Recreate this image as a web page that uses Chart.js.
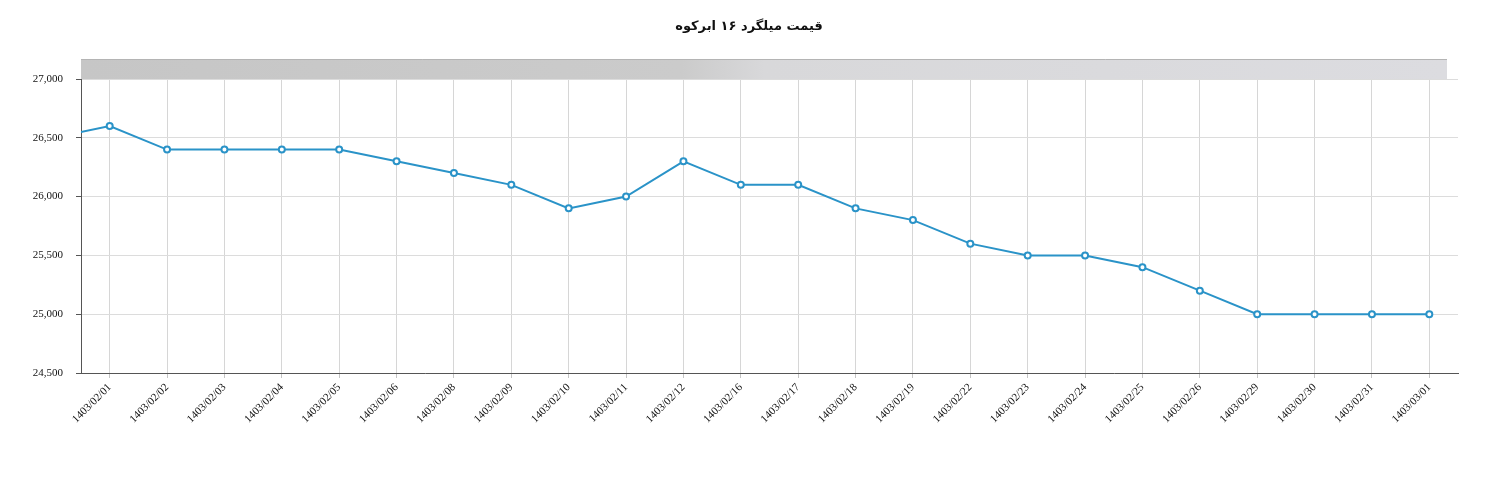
<!DOCTYPE html>
<html>
<head>
<meta charset="utf-8">
<script src="https://cdn.jsdelivr.net/npm/chart.js@4"></script>
<style>
  html, body { margin: 0; padding: 0; background: #fff; }
  #wrap { width: 1498px; height: 483px; position: relative; }
</style>
</head>
<body>
<div id="wrap"><canvas id="myChart"></canvas></div>
<script>
// title and data (first date sits just left of the visible window)
const titulo = "قیمت میلگرد ۱۶ ابرکوه";
const datas = [
  "1403/01/31",
  "1403/02/01", "1403/02/02", "1403/02/03", "1403/02/04", "1403/02/05",
  "1403/02/06", "1403/02/08", "1403/02/09", "1403/02/10", "1403/02/11",
  "1403/02/12", "1403/02/16", "1403/02/17", "1403/02/18", "1403/02/19",
  "1403/02/22", "1403/02/23", "1403/02/24", "1403/02/25", "1403/02/26",
  "1403/02/29", "1403/02/30", "1403/02/31", "1403/03/01"
];
const precos = [
  26500,
  26600, 26400, 26400, 26400, 26400,
  26300, 26200, 26100, 25900, 26000,
  26300, 26100, 26100, 25900, 25800,
  25600, 25500, 25500, 25400, 25200,
  25000, 25000, 25000, 25000
];
const yMin = 24500;
const yMax = 27000;
const yStep = 500;

// barra cinza em cima da área do gráfico
const barraTopo = {
  id: "barraTopo",
  beforeDatasetsDraw(chart) {
    const { ctx, chartArea } = chart;
    const x0 = chartArea.left;
    const x1 = chartArea.right - 11;
    const g = ctx.createLinearGradient(x0, 0, x1, 0);
    g.addColorStop(0, "#c6c6c6");
    g.addColorStop(0.44, "#cbcbcb");
    g.addColorStop(0.5, "#d8d8da");
    g.addColorStop(1, "#dcdce0");
    ctx.save();
    ctx.fillStyle = g;
    ctx.fillRect(x0, chartArea.top - 20, x1 - x0, 20);
    ctx.strokeStyle = "#b4b4b4";
    ctx.lineWidth = 1;
    ctx.beginPath();
    ctx.moveTo(x0, chartArea.top - 19.5);
    ctx.lineTo(x1, chartArea.top - 19.5);
    ctx.stroke();
    ctx.restore();
  }
};

// título centrado na página toda (não só na área do gráfico)
const tituloCentro = {
  id: "tituloCentro",
  afterDraw(chart) {
    const { ctx, width } = chart;
    ctx.save();
    ctx.font = "bold 13px 'DejaVu Sans'";
    ctx.fillStyle = "#111";
    ctx.textAlign = "center";
    ctx.textBaseline = "middle";
    ctx.fillText(titulo, width / 2, 27);
    ctx.restore();
  }
};

let myChart;

document.addEventListener("DOMContentLoaded", () => {
  const ctx = document.getElementById("myChart").getContext("2d");
  myChart = new Chart(ctx, {
    type: "line",
    data: {
      labels: datas,
      datasets: [
        {
          label: titulo,
          data: precos,
          borderColor: "#2a93c8",
          backgroundColor: "#ffffff",
          borderWidth: 2,
          pointRadius: 3,
          pointBorderWidth: 2,
          pointBackgroundColor: "#ffffff",
          pointBorderColor: "#2a93c8",
          tension: 0,
          fill: false,
        },
      ],
    },
    plugins: [barraTopo, tituloCentro],
    options: {
      responsive: true,
      maintainAspectRatio: false,
      animation: false,
      layout: { padding: { top: 79, right: 40, left: 0, bottom: 0 } },
      plugins: {
        legend: { display: false },
        tooltip: { enabled: false },
        title: { display: false },
      },
      scales: {
        x: {
          type: "category",
          min: datas[1],
          offset: true,
          afterFit: (s) => { s.height = 110; },
          border: { color: "#555", width: 1 },
          grid: { color: "#d6d6d6", tickColor: "#c4c4c4", tickLength: 5 },
          ticks: {
            color: "#111",
            font: { family: "Liberation Serif", size: 11 },
            minRotation: 45,
            maxRotation: 45,
            autoSkip: false,
            padding: 3,
          },
        },
        y: {
          min: yMin,
          max: yMax,
          afterFit: (s) => { s.width = 81; },
          border: { color: "#555", width: 1 },
          grid: { color: "#dcdcdc", tickColor: "#555", tickLength: 5 },
          ticks: {
            stepSize: yStep,
            color: "#111",
            font: { family: "Liberation Serif", size: 11 },
            padding: 13,
            callback: (v) => v.toLocaleString("en-US"),
          },
        },
      },
    },
  });
});
</script>
</body>
</html>
